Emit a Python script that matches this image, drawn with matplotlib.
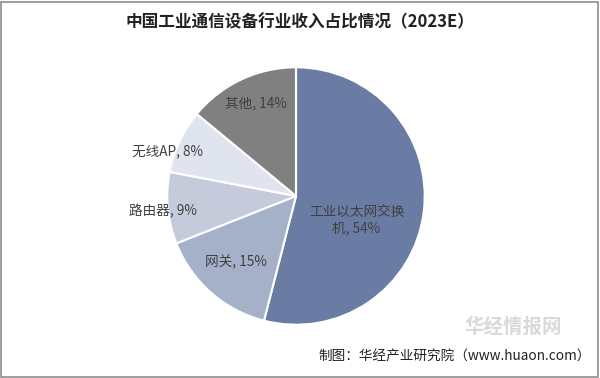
import matplotlib
matplotlib.use('Agg')
import matplotlib.pyplot as plt
from matplotlib.patches import Rectangle

plt.rcParams['font.family'] = ['Noto Sans CJK SC', 'DejaVu Sans']

labels = ['工业以太网交换\n机', '网关', '路由器', '无线AP', '其他']
shares = [54, 15, 9, 8, 14]
colors = ['#6a7ca3', '#a5b0c9', '#c5cbdb', '#e0e4ee', '#808080']
# label centres in units of the pie radius
label_xy = [(0.47, -0.19), (-0.47, -0.51), (-1.03, -0.12), (-1.0, 0.35), (-0.31, 0.72)]

fig = plt.figure(figsize=(6.0, 3.78), dpi=100)
fig.patches.append(Rectangle((0.002, 0.003), 0.995, 0.993, transform=fig.transFigure,
                             fill=False, edgecolor='#8c8c8c', lw=1.2))

cx, cy, r = 296, 196, 130
ax = fig.add_axes([(cx - r) / 600, (378 - cy - r) / 378, 2 * r / 600, 2 * r / 378])
ax.pie(shares, colors=colors, startangle=90, counterclock=False, radius=1,
       wedgeprops=dict(edgecolor='white', linewidth=1.5))
ax.set_xlim(-1.01, 1.01); ax.set_ylim(-1.01, 1.01)
ax.set_aspect('equal')
for lab, s, (x, y) in zip(labels, shares, label_xy):
  ax.text(x, y, f'{lab}, {s}%', ha='center', va='center', fontsize=9.8,
          color='#404040', linespacing=1.2)

fig.text(0.5, 0.942, '中国工业通信设备行业收入占比情况（2023E）', ha='center', va='center',
         fontsize=12, fontweight='bold', color='#222222')
fig.text(0.855, 0.135, '华经情报网', ha='center', va='center', fontsize=14,
         fontweight='bold', color='#d0d0d0', alpha=0.8)
fig.text(0.985, 0.058, '制图：华经产业研究院（www.huaon.com）', ha='right', va='center',
         fontsize=9.8, color='#222222')

fig.savefig('out.png', dpi=100)
